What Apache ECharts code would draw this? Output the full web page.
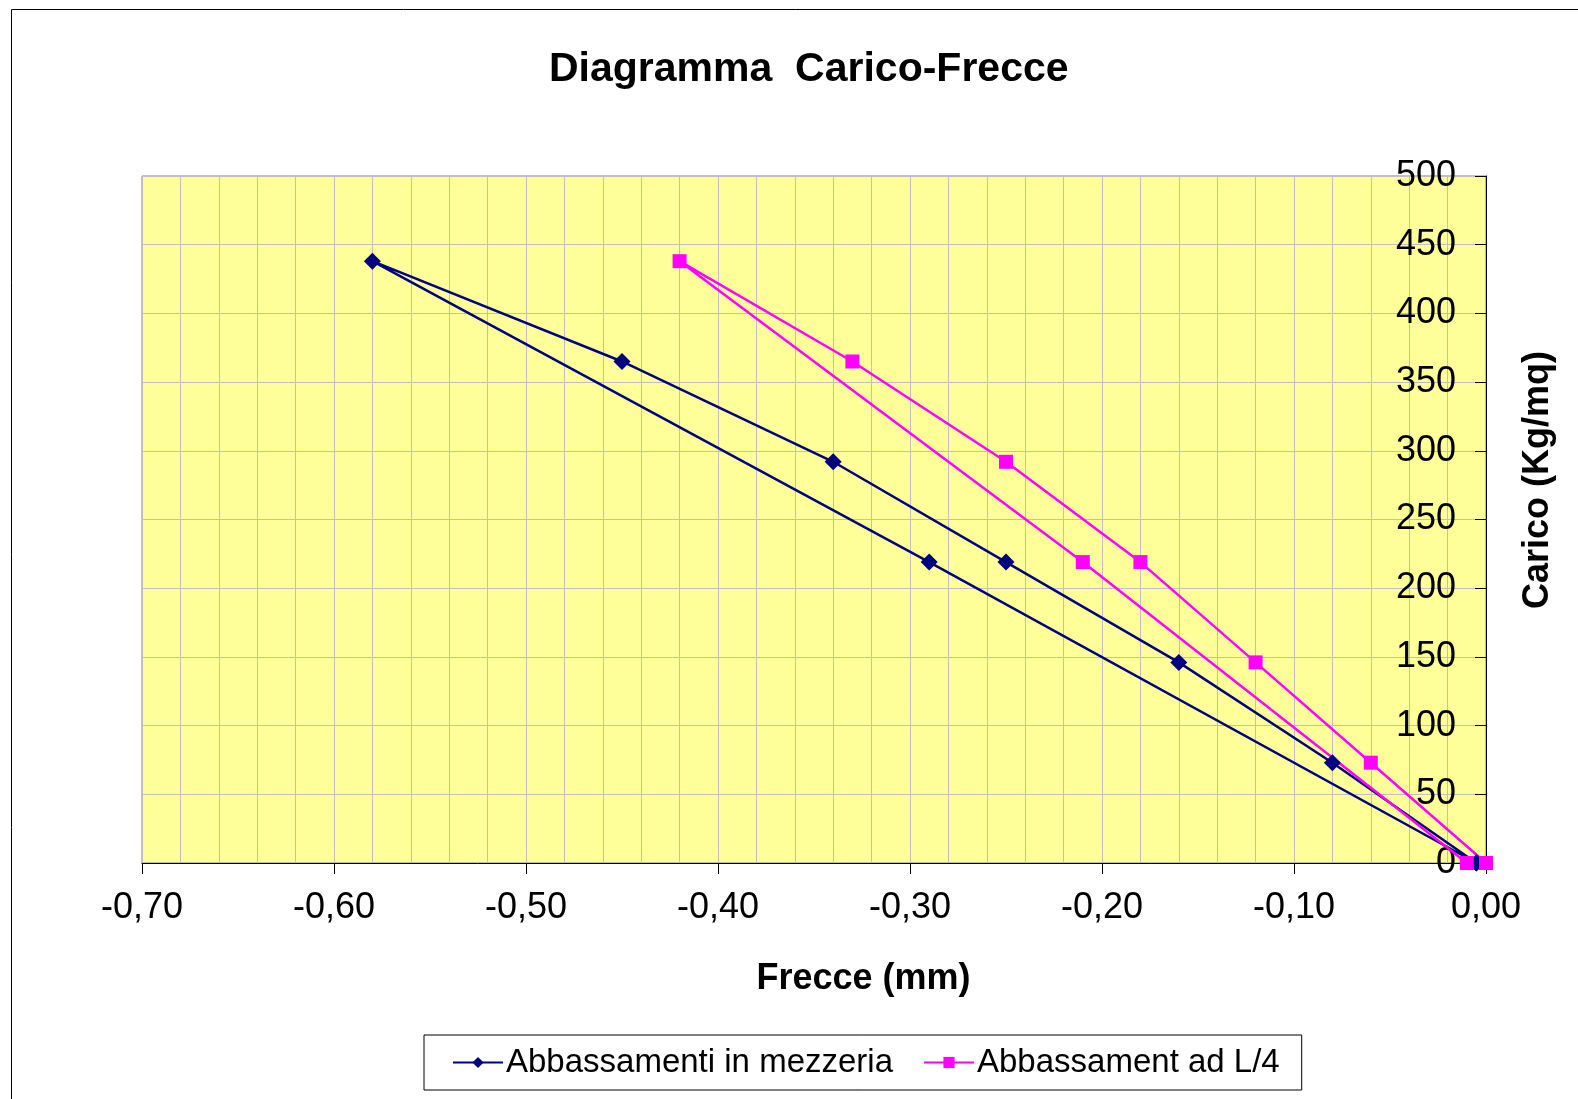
<!DOCTYPE html>
<html>
<head>
<meta charset="utf-8">
<script src="https://cdn.jsdelivr.net/npm/echarts@6/dist/echarts.min.js"></script>
<style>
  html, body { margin: 0; padding: 0; background: #ffffff; }
  #chart { width: 1578px; height: 1099px; }
</style>
</head>
<body>
<div id="chart"></div>
<script>
// ---- Data ----
const chartTitle = 'Diagramma  Carico-Frecce';
const xAxisTitle = 'Frecce (mm)';
const yAxisTitle = 'Carico (Kg/mq)';
const seriesNames = ['Abbassamenti in mezzeria', 'Abbassament ad L/4'];

const frecceMezzeria = [-0.005, -0.08, -0.16, -0.25, -0.34, -0.45, -0.58, -0.29, -0.005];
const caricoMezzeria = [0, 73, 146, 219, 292, 365, 438, 219, 0];

const frecceL4 = [0, -0.06, -0.12, -0.18, -0.25, -0.33, -0.42, -0.21, -0.01];
const caricoL4 = [0, 73, 146, 219, 292, 365, 438, 219, 0];

const xMin = -0.7, xMax = 0, xStep = 0.1;
const yMin = 0, yMax = 500, yStep = 50;

// ---- Build ----
function pairs(xs, ys) { return xs.map((x, i) => [x, ys[i]]); }
const font = '"Liberation Sans", Arial, sans-serif';

const chart = echarts.init(document.getElementById('chart'), null, { renderer: 'canvas' });
chart.setOption({
  animation: false,
  backgroundColor: '#ffffff',
  textStyle: { fontFamily: font, color: '#000' },
  graphic: [{
    type: 'rect', left: 9, top: 7, z: -1,
    shape: { width: 1600, height: 1200 },
    style: { fill: 'none', stroke: '#000', lineWidth: 1 }
  }],
  title: {
    text: chartTitle, left: 544, top: 44,
    textStyle: { fontFamily: font, fontSize: 41, fontWeight: 'bold', color: '#000' }
  },
  grid: {
    left: 142, top: 176, right: 92, bottom: 236,
    show: true, backgroundColor: '#FFFF99', borderColor: '#808080', borderWidth: 1
  },
  legend: {
    left: 424, top: 1035,
    padding: [11, 22, 11, 28],
    itemGap: 30, itemWidth: 50, itemHeight: 14,
    borderColor: '#000', borderWidth: 1, backgroundColor: '#fff',
    textStyle: { fontFamily: font, fontSize: 33, color: '#000', padding: [0, 0, 0, -2] },
    data: seriesNames
  },
  xAxis: {
    type: 'value', min: xMin, max: xMax, interval: xStep,
    name: xAxisTitle, nameLocation: 'middle', nameGap: 98,
    nameTextStyle: { fontFamily: font, fontSize: 36, fontWeight: 'bold', color: '#000', padding: [0, 0, 0, 99] },
    axisLine: { show: true, onZero: false, lineStyle: { color: '#000', width: 1 } },
    axisTick: { show: true, length: 11, lineStyle: { color: '#000' } },
    axisLabel: {
      fontFamily: font, fontSize: 36, color: '#000', margin: 27,
      formatter: v => v.toFixed(2).replace('.', ',')
    },
    splitLine: { show: true, lineStyle: { color: '#C0C0C0', width: 1 } },
    minorTick: { show: false, splitNumber: 5 },
    minorSplitLine: { show: true, lineStyle: { color: '#C0C0C0', width: 1 } }
  },
  yAxis: {
    type: 'value', position: 'right', min: yMin, max: yMax, interval: yStep,
    name: yAxisTitle, nameLocation: 'middle', nameGap: 34, nameRotate: 90,
    nameTextStyle: { fontFamily: font, fontSize: 36, fontWeight: 'bold', color: '#000', padding: [0, 0, 0, 79] },
    axisLine: { show: true, onZero: false, lineStyle: { color: '#000', width: 1 } },
    axisTick: { show: true, inside: true, length: 11, lineStyle: { color: '#000' } },
    axisLabel: { inside: true, fontFamily: font, fontSize: 36, color: '#000', margin: 30 },
    splitLine: { show: true, lineStyle: { color: '#C0C0C0', width: 1 } }
  },
  series: [
    {
      name: seriesNames[0], type: 'line',
      data: pairs(frecceMezzeria, caricoMezzeria),
      symbol: 'diamond', symbolSize: 17, showAllSymbol: true,
      lineStyle: { color: '#000080', width: 2.5 },
      itemStyle: { color: '#000080', borderWidth: 0 }
    },
    {
      name: seriesNames[1], type: 'line',
      data: pairs(frecceL4, caricoL4),
      symbol: 'rect', symbolSize: 14, showAllSymbol: true,
      lineStyle: { color: '#FF00FF', width: 2.5 },
      itemStyle: { color: '#FF00FF', borderWidth: 0 }
    }
  ]
});
</script>
</body>
</html>
